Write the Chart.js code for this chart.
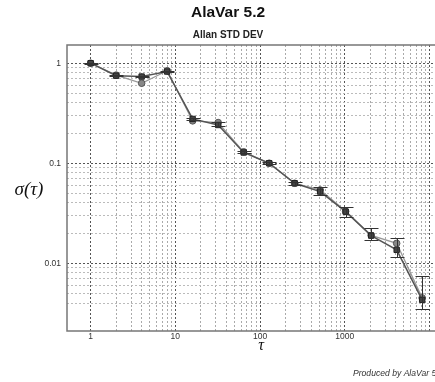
<!DOCTYPE html>
<html>
<head>
<meta charset="utf-8">
<script src="https://cdn.jsdelivr.net/npm/chart.js@4/dist/chart.umd.min.js"></script>
<style>
html,body{margin:0;padding:0;background:#fff;overflow:hidden;}
#wrap{position:absolute;left:0;top:0;width:460px;height:382px;}
</style>
</head>
<body>
<div id="wrap"><canvas id="c" width="460" height="382"></canvas></div>
<script>
// ---- data ----
const taus = [1, 2, 4, 8, 16, 32, 64, 128, 256, 512, 1024, 2048, 4096, 8192];
const sigmaSquares = [1.0, 0.75, 0.735, 0.825, 0.277, 0.241, 0.128, 0.1, 0.063, 0.052, 0.0328, 0.0189, 0.0136, 0.0043];
const sigmaCircles = [1.0, 0.76, 0.63, 0.84, 0.265, 0.255, 0.13, 0.1, 0.063, 0.054, 0.033, 0.019, 0.0158, 0.0045];
const errLow  = [0.985, 0.74, 0.725, 0.81, 0.272, 0.236, 0.126, 0.098, 0.061, 0.0484, 0.0293, 0.0171, 0.0115, 0.0035];
const errHigh = [1.015, 0.765, 0.745, 0.84, 0.283, 0.258, 0.131, 0.102, 0.065, 0.0577, 0.0368, 0.0225, 0.018, 0.0075];
const xTickValues = [1,2,3,4,5,6,7,8,9,10,20,30,40,50,60,70,80,90,100,200,300,400,500,600,700,800,900,1000,2000,3000,4000,5000,6000,7000,8000,9000,10000];
const xTickLabels = ['1','10','100','1000'];
const yTickValues = [0.004,0.005,0.006,0.007,0.008,0.009,0.01,0.02,0.03,0.04,0.05,0.06,0.07,0.08,0.09,0.1,0.2,0.3,0.4,0.5,0.6,0.7,0.8,0.9,1];
const yTickLabels = ['0.01','0.1','1'];
const titleText = 'AlaVar 5.2';
const subtitleText = 'Allan STD DEV';
const yTitleText = 'σ(τ)';
const xTitleText = 'τ';
const creditText = 'Produced by AlaVar 5.2';

const isDecade = v => Math.abs(Math.log10(v) - Math.round(Math.log10(v))) < 1e-9;
const fmt = v => String(+v.toPrecision(6));

const errorBars = {
  id: 'errorBars',
  afterDatasetsDraw(chart) {
    const {ctx, scales: {x, y}} = chart;
    ctx.save();
    ctx.strokeStyle = '#333';
    ctx.lineWidth = 1;
    for (let i = 0; i < taus.length; i++) {
      const px = Math.round(x.getPixelForValue(taus[i])) + 0.5;
      const yl = Math.round(y.getPixelForValue(errLow[i])) + 0.5;
      const yh = Math.round(y.getPixelForValue(errHigh[i])) + 0.5;
      ctx.beginPath();
      ctx.moveTo(px, yl); ctx.lineTo(px, yh);
      ctx.moveTo(px - 7, yl); ctx.lineTo(px + 7, yl);
      ctx.moveTo(px - 7, yh); ctx.lineTo(px + 7, yh);
      ctx.stroke();
    }
    ctx.restore();
  }
};

const frameAndText = {
  id: 'frameAndText',
  afterDraw(chart) {
    const {ctx, chartArea: a} = chart;
    ctx.save();
    ctx.strokeStyle = '#777';
    ctx.lineWidth = 1.5;
    ctx.beginPath();
    ctx.moveTo(a.right + 5, a.top); ctx.lineTo(a.left, a.top);
    ctx.lineTo(a.left, a.bottom); ctx.lineTo(a.right + 5, a.bottom);
    ctx.stroke();
    ctx.fillStyle = '#111';
    ctx.font = 'italic 19px "Liberation Serif", serif';
    ctx.textAlign = 'center';
    ctx.textBaseline = 'middle';
    ctx.fillText(yTitleText, 29, 190);
    ctx.fillStyle = '#333';
    ctx.font = 'italic 8.6px "Liberation Sans", Arial, sans-serif';
    ctx.textAlign = 'left';
    ctx.fillText(creditText, 353, 374);
    ctx.restore();
  }
};

new Chart(document.getElementById('c'), {
  type: 'line',
  data: {
    datasets: [
      {
        label: 'squares',
        data: taus.map((t, i) => ({x: t, y: sigmaSquares[i]})),
        borderColor: '#555',
        borderWidth: 1.5,
        pointStyle: 'rect',
        pointRadius: 3.8,
        pointBackgroundColor: '#444',
        pointBorderColor: '#222',
        pointBorderWidth: 1,
        tension: 0,
        order: 0
      },
      {
        label: 'circles',
        data: taus.map((t, i) => ({x: t, y: sigmaCircles[i]})),
        borderColor: '#999',
        borderWidth: 1.3,
        pointStyle: 'circle',
        pointRadius: 3.3,
        pointBackgroundColor: '#888',
        pointBorderColor: '#555',
        pointBorderWidth: 1,
        tension: 0,
        order: 1
      }
    ]
  },
  options: {
    responsive: false,
    animation: false,
    layout: {padding: {left: 0, right: 4, top: 0, bottom: 0}},
    plugins: {
      legend: {display: false},
      tooltip: {enabled: false},
      title: {
        display: true, text: titleText, color: '#111',
        font: {family: '"Liberation Sans", Arial, sans-serif', size: 15.5, weight: 'bold'},
        padding: {top: 3.7, bottom: 2}
      },
      subtitle: {
        display: true, text: subtitleText, color: '#222',
        font: {family: '"Liberation Sans", Arial, sans-serif', size: 10, weight: 'bold'},
        padding: {top: 4.7, bottom: 4}
      }
    },
    scales: {
      x: {
        type: 'logarithmic',
        min: 0.526, max: 20000,
        afterFit(s) { s.height = 51; },
        afterBuildTicks(s) { s.ticks = xTickValues.map(v => ({value: v, major: isDecade(v)})); },
        ticks: {
          autoSkip: false, maxRotation: 0, padding: 1, color: '#333',
          font: {family: '"Liberation Sans", Arial, sans-serif', size: 8.5, lineHeight: 1},
          callback: v => xTickLabels.includes(fmt(v)) ? fmt(v) : ''
        },
        grid: {
          drawTicks: false,
          color: c => (c.tick && isDecade(c.tick.value)) ? '#555' : '#aaa',
          lineWidth: 1
        },
        border: {display: false, dash: [2, 2]},
        title: {
          display: true, text: xTitleText, color: '#111',
          font: {family: '"Liberation Serif", serif', size: 16, style: 'italic', lineHeight: 1},
          padding: {top: 0, bottom: 28}
        }
      },
      y: {
        type: 'logarithmic',
        min: 0.0021, max: 1.52,
        afterFit(s) { s.width = 67; },
        afterBuildTicks(s) { s.ticks = yTickValues.map(v => ({value: v, major: isDecade(v)})); },
        ticks: {
          autoSkip: false, padding: 6, color: '#333',
          font: {family: '"Liberation Sans", Arial, sans-serif', size: 8.5, lineHeight: 1},
          callback: v => yTickLabels.includes(fmt(v)) ? fmt(v) : ''
        },
        grid: {
          drawTicks: false,
          color: c => (c.tick && isDecade(c.tick.value)) ? '#555' : '#bbb',
          lineWidth: 1
        },
        border: {display: false, dash: [2, 2]}
      }
    }
  },
  plugins: [errorBars, frameAndText]
});
</script>
</body>
</html>
